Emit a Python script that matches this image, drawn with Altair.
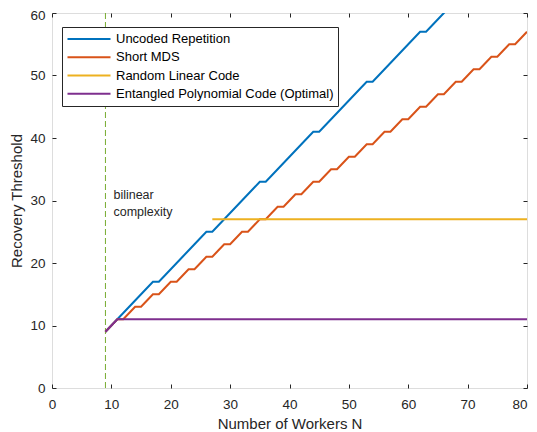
import altair as alt
import pandas as pd

FONT = "Liberation Sans"
INK = "#262626"

series_names = ["Uncoded Repetition", "Short MDS", "Random Linear Code",
                "Entangled Polynomial Code (Optimal)"]
series_colors = ["#0072BD", "#D95319", "#EDB120", "#7E2F8E"]

# Uncoded Repetition, N = 9 .. 67 (clipped at 60)
uncoded_n = list(range(9, 68))
uncoded_vals = [9, 10, 11, 12, 13, 14, 15, 16, 17,
                17, 18, 19, 20, 21, 22, 23, 24, 25,
                25, 26, 27, 28, 29, 30, 31, 32, 33,
                33, 34, 35, 36, 37, 38, 39, 40, 41,
                41, 42, 43, 44, 45, 46, 47, 48, 49,
                49, 50, 51, 52, 53, 54, 55, 56, 57,
                57, 58, 59, 60, 61]

# Short MDS, N = 9 .. 80
mds_n = list(range(9, 81))
mds_vals = [9, 10,
            11, 11, 12, 13, 13, 14, 15, 15, 16, 17, 17, 18,
            19, 19, 20, 21, 21, 22, 23, 23, 24, 25, 25, 26,
            27, 27, 28, 29, 29, 30, 31, 31, 32, 33, 33, 34,
            35, 35, 36, 37, 37, 38, 39, 39, 40, 41, 41, 42,
            43, 43, 44, 45, 45, 46, 47, 47, 48, 49, 49, 50,
            51, 51, 52, 53, 53, 54, 55, 55, 56,
            57]

# Random Linear Code
random_n = [27, 80]
random_vals = [27, 27]

# Entangled Polynomial Code (Optimal)
ent_n = [9, 10, 11, 80]
ent_vals = [9, 10, 11, 11]

# bilinear complexity marker
bilinear_x = [9]
note_lines = ["bilinear", "complexity"]
note_x = [9, 9]
note_y = [30.9, 28.2]

x_ticks = [0, 10, 20, 30, 40, 50, 60, 70, 80]
y_ticks = [0, 10, 20, 30, 40, 50, 60]

rows = []
for name, ns, vs in zip(series_names,
                        [uncoded_n, mds_n, random_n, ent_n],
                        [uncoded_vals, mds_vals, random_vals, ent_vals]):
    for k, (n, v) in enumerate(zip(ns, vs)):
        rows.append({"series": name, "N": n, "R": v, "order": k})
df = pd.DataFrame(rows)

xscale = alt.Scale(domain=[0, 80], nice=False, zero=False)
yscale = alt.Scale(domain=[0, 60], nice=False, zero=False)

axis_common = dict(domain=False, grid=False, tickColor=INK, tickSize=4, offset=-4,
                   labelFlush=False, labelOverlap=False,
                   labelFont=FONT, labelFontSize=13.5, labelColor=INK,
                   titleFont=FONT, titleFontSize=15, titleColor=INK,
                   titleFontWeight="normal")

x_axis = alt.Axis(values=x_ticks, labelPadding=9,
                  labelAlign={"condition": {"test": "datum.value == 80", "value": "right"},
                              "value": "center"},
                  title="Number of Workers N", titlePadding=6, **axis_common)
y_axis = alt.Axis(values=y_ticks, labelPadding=7,
                  labelOffset={"condition": {"test": "datum.value == 60", "value": 2.5},
                               "value": 0},
                  title="Recovery Threshold", titlePadding=5, **axis_common)

lines = alt.Chart(df).mark_line(strokeWidth=2, clip=True, interpolate="linear").encode(
    x=alt.X("N:Q", scale=xscale, axis=x_axis),
    y=alt.Y("R:Q", scale=yscale, axis=y_axis),
    order="order:Q",
    color=alt.Color("series:N",
                    scale=alt.Scale(domain=series_names, range=series_colors),
                    sort=series_names,
                    legend=alt.Legend(title=None, orient="none", legendX=10, legendY=14,
                                      symbolType="stroke", symbolSize=1850,
                                      symbolStrokeWidth=2, labelFont=FONT,
                                      labelFontSize=13, labelColor="black",
                                      labelLimit=400, labelOffset=4,
                                      strokeColor=INK, fillColor="white",
                                      padding=4, clipHeight=16.2, rowPadding=1.2)),
)

vline = alt.Chart(pd.DataFrame({"x": bilinear_x})).mark_rule(
    color="#77AC30", strokeWidth=1, strokeDash=[6, 3]
).encode(x=alt.X("x:Q", scale=xscale, axis=None))

note = alt.Chart(pd.DataFrame({"t": note_lines, "x": note_x, "y": note_y})).mark_text(
    align="left", baseline="middle", dx=8, font=FONT, fontSize=12.5, color=INK
).encode(
    x=alt.X("x:Q", scale=xscale,
            axis=alt.Axis(orient="top", labels=False, title=None, domain=False, grid=False,
                          tickColor=INK, tickSize=4, offset=-4, values=x_ticks)),
    y=alt.Y("y:Q", scale=yscale,
            axis=alt.Axis(orient="right", labels=False, title=None, domain=False, grid=False,
                          tickColor=INK, tickSize=4, offset=-4, values=y_ticks)),
    text="t:N",
)

chart = alt.layer(vline, lines, note).resolve_axis(
    x="independent", y="independent"
).properties(
    width=475, height=375,
    autosize=alt.AutoSizeParams(type="none"),
    padding={"left": 44, "top": 5, "right": 2, "bottom": 44},
).configure_view(stroke=INK, strokeWidth=1).configure(background="white")

chart.save("out.html", embed_options={"renderer": "svg", "actions": False})
